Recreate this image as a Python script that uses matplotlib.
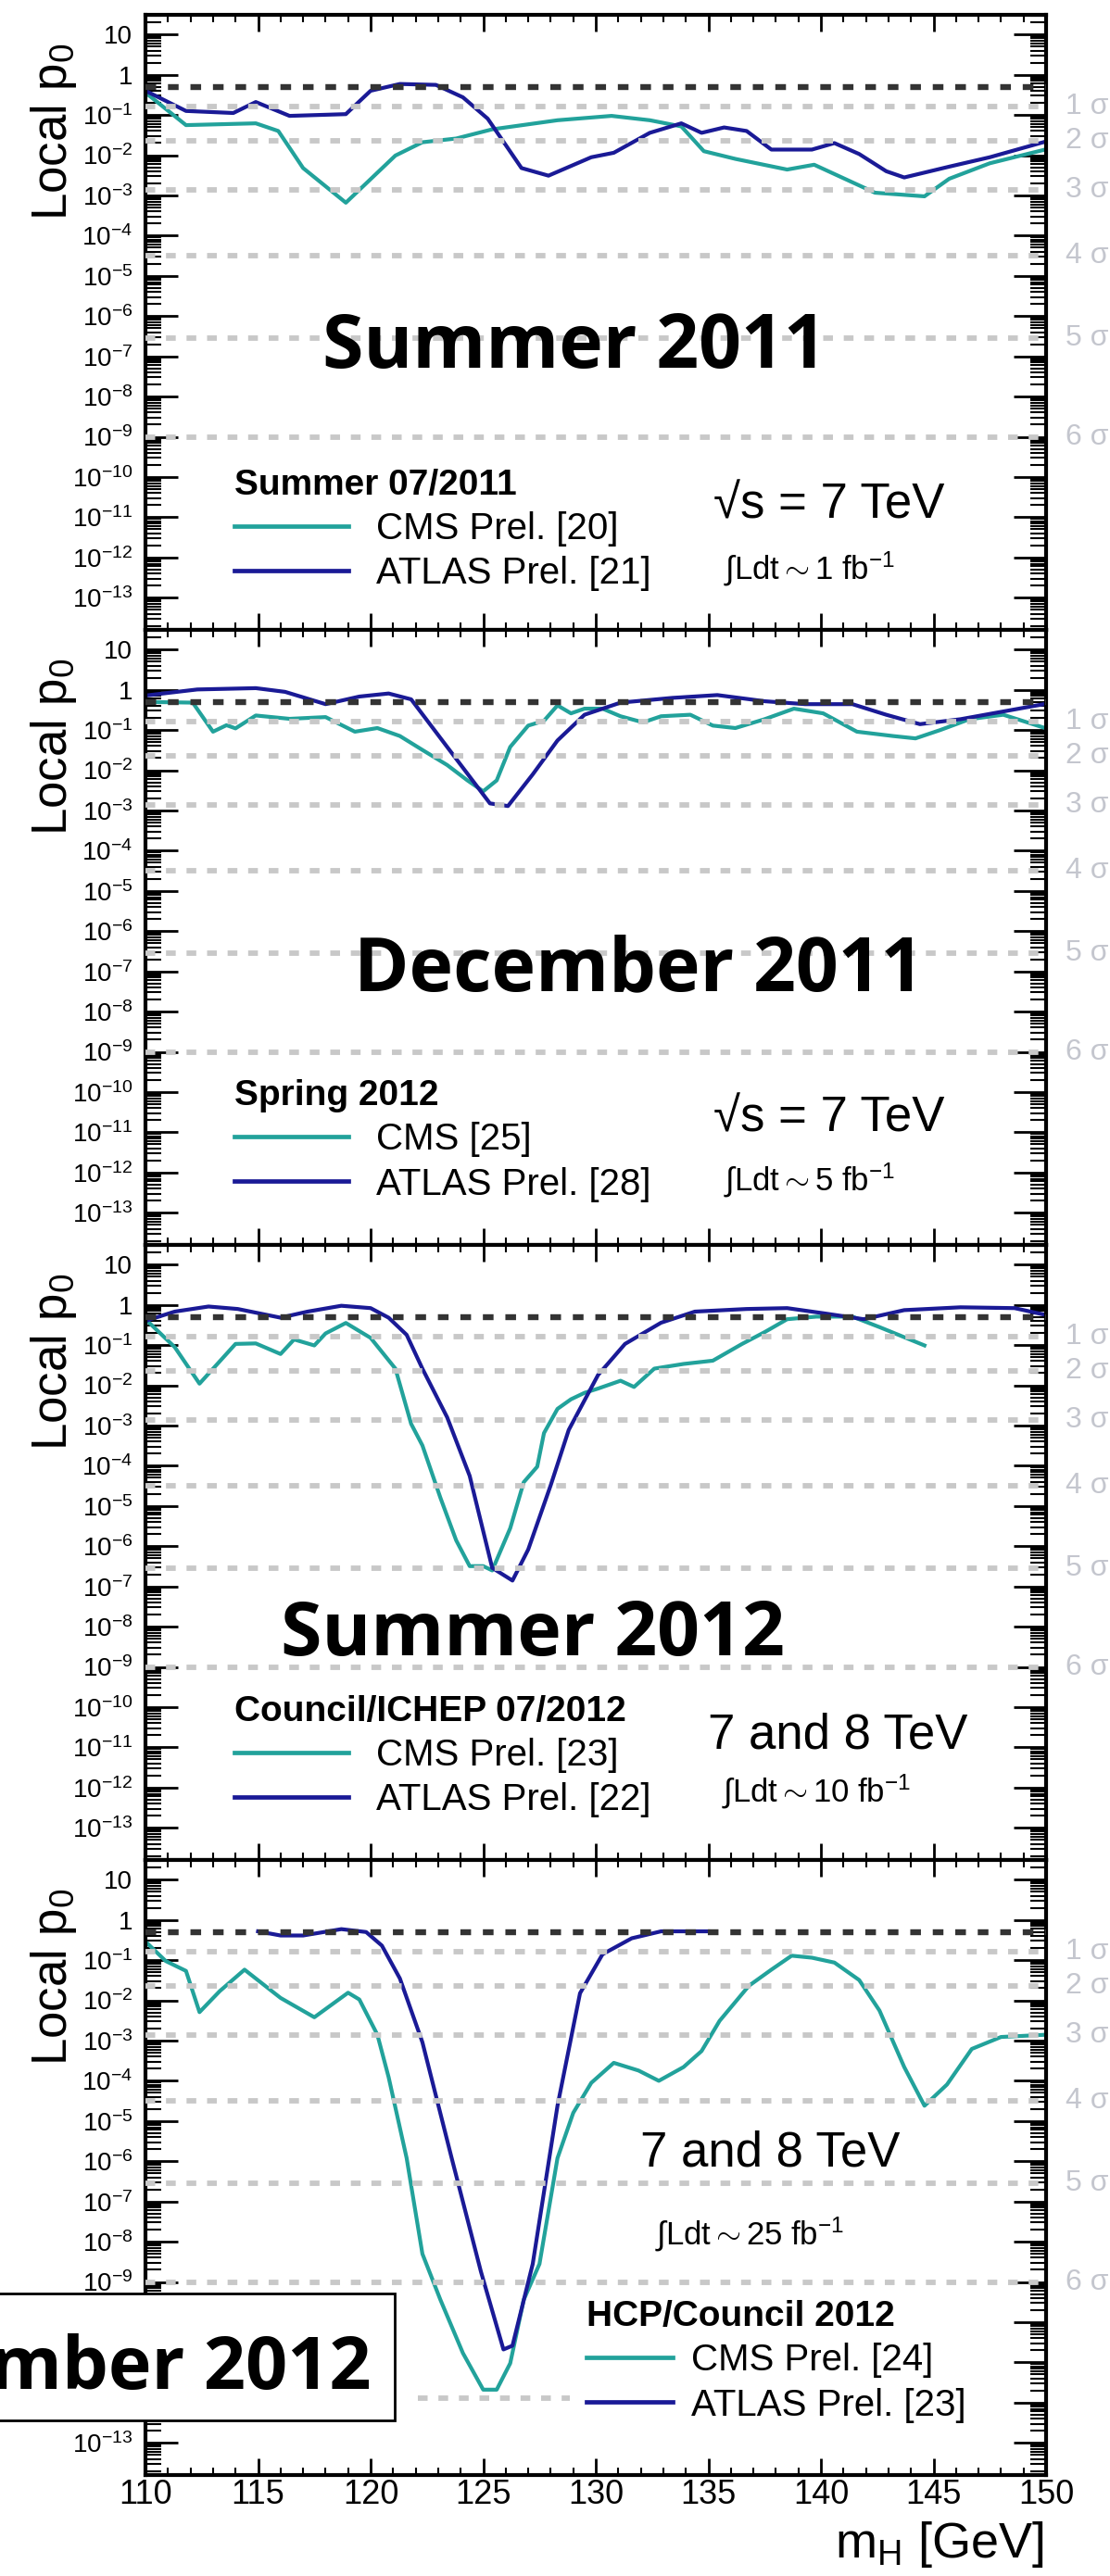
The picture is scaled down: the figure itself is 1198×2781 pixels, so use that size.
import numpy as np
import matplotlib
matplotlib.use('Agg')
import matplotlib.pyplot as plt
import matplotlib.transforms as mtransforms
from matplotlib.ticker import FixedLocator, LogLocator, NullFormatter, MultipleLocator
from matplotlib.patches import Rectangle

plt.rcParams['font.family'] = ['Liberation Sans', 'DejaVu Sans']
plt.rcParams['mathtext.fontset'] = 'custom'
plt.rcParams['mathtext.rm'] = 'Liberation Sans'
plt.rcParams['mathtext.it'] = 'Liberation Sans:italic'
plt.rcParams['mathtext.bf'] = 'Liberation Sans:bold'

# ---- data: local p0 vs mH ----
# Summer 2011
cms1_m = [110.0, 111.8, 114.9, 115.9, 117.0, 118.9, 121.1, 122.3, 123.8, 125.4, 128.3, 130.7,
          132.4, 133.8, 134.8, 136.2, 138.5, 139.7, 142.4, 144.6, 145.7, 147.5, 150.0]
cms1_p = [0.36, 5.6e-2, 6.2e-2, 4.0e-2, 4.8e-3, 6.6e-4, 9.8e-3, 2.1e-2, 2.6e-2, 4.4e-2, 7.4e-2, 9.5e-2,
          7.4e-2, 5.2e-2, 1.26e-2, 8.1e-3, 4.4e-3, 5.8e-3, 1.17e-3, 9.5e-4, 2.6e-3, 6.3e-3, 1.4e-2]
atlas1_m = [110.0, 111.8, 113.9, 114.9, 116.4, 118.9, 120.0, 121.3, 122.9, 124.1, 125.2, 126.7, 127.9,
            129.8, 130.8, 132.4, 133.8, 134.7, 135.7, 136.7, 137.8, 139.6, 140.6, 141.7, 142.9, 143.7,
            145.7, 147.5, 150.0]
atlas1_p = [0.40, 0.126, 0.112, 0.21, 9.5e-2, 0.105, 0.40, 0.59, 0.56, 0.275, 8.1e-2, 4.8e-3, 3.1e-3,
            8.9e-3, 1.15e-2, 3.6e-2, 6.2e-2, 3.6e-2, 4.9e-2, 4.0e-2, 1.38e-2, 1.38e-2, 2.0e-2, 1.07e-2,
            4.0e-3, 2.8e-3, 5.2e-3, 8.9e-3, 2.2e-2]

# December 2011
cms2_m = [110.0, 112.1, 113.0, 113.6, 114.0, 114.9, 116.4, 118.0, 119.3, 120.3, 121.3, 122.3, 123.4,
          124.3, 125.0, 125.6, 126.2, 127.0, 127.7, 128.3, 128.9, 129.5, 130.3, 131.1, 132.1, 132.9,
          134.2, 135.2, 136.2, 137.5, 138.8, 140.1, 141.6, 143.2, 144.2, 145.3, 146.6, 148.1, 150.0]
cms2_p = [0.50, 0.48, 9.1e-2, 0.132, 0.11, 0.23, 0.19, 0.21, 9.1e-2, 0.112, 7.1e-2, 3.2e-2, 1.35e-2,
          5.6e-3, 3.0e-3, 5.6e-3, 3.8e-2, 0.129, 0.17, 0.41, 0.26, 0.34, 0.34, 0.22, 0.155, 0.22,
          0.24, 0.129, 0.112, 0.186, 0.34, 0.26, 9.1e-2, 7.1e-2, 6.2e-2, 0.10, 0.186, 0.24, 0.11]
atlas2_m = [110.0, 112.3, 114.9, 116.2, 118.0, 119.5, 120.8, 121.8, 123.4, 125.3, 126.1, 127.2, 128.3,
            129.5, 131.1, 133.4, 135.4, 137.5, 139.3, 141.4, 142.9, 144.4, 146.2, 147.8, 150.0]
atlas2_p = [0.72, 1.02, 1.10, 0.89, 0.44, 0.68, 0.81, 0.58, 3.8e-2, 1.5e-3, 1.29e-3, 7.9e-3, 5.5e-2,
            0.24, 0.48, 0.63, 0.74, 0.52, 0.44, 0.44, 0.24, 0.14, 0.186, 0.27, 0.45]

# Summer 2012
cms3_m = [110.0, 111.3, 112.4, 114.0, 114.9, 116.0, 116.6, 117.5, 118.0, 118.9, 120.0, 121.1, 121.8,
          122.3, 123.1, 123.8, 124.4, 125.0, 125.4, 126.2, 126.8, 127.4, 127.7, 128.3, 128.9, 129.5,
          130.1, 131.1, 131.7, 132.6, 133.9, 135.2, 136.5, 137.5, 138.5, 139.8, 141.4, 142.6, 144.6]
cms3_p = [0.44, 8.9e-2, 1.1e-2, 0.107, 0.11, 6.0e-2, 0.138, 9.8e-2, 0.195, 0.355, 0.151, 2.6e-2, 1.1e-3,
          3.2e-4, 1.6e-5, 1.4e-6, 3.2e-7, 3.2e-7, 2.5e-7, 2.8e-6, 3.9e-5, 9.5e-5, 6.5e-4, 2.6e-3, 4.5e-3,
          6.5e-3, 8.3e-3, 1.3e-2, 9.1e-3, 2.6e-2, 3.4e-2, 4.1e-2, 0.107, 0.21, 0.44, 0.51, 0.51, 0.28,
          9.8e-2]
atlas3_m = [110.0, 111.3, 112.8, 114.1, 116.0, 117.2, 118.7, 120.0, 120.8, 121.6, 122.3, 123.4, 124.4,
            125.4, 126.3, 127.0, 128.0, 128.8, 130.1, 131.3, 132.9, 134.4, 136.7, 138.5, 140.1, 141.9,
            143.7, 146.2, 148.6, 150.0]
atlas3_p = [0.40, 0.68, 0.91, 0.79, 0.48, 0.68, 0.95, 0.83, 0.48, 0.18, 2.6e-2, 1.6e-3, 5.6e-5,
            2.9e-7, 1.4e-7, 8.3e-7, 3.3e-5, 7.8e-4, 1.8e-2, 0.107, 0.36, 0.68, 0.79, 0.83, 0.62, 0.44,
            0.74, 0.87, 0.83, 0.56]

# November 2012
cms4_m = [110.0, 110.9, 111.8, 112.4, 113.3, 114.4, 116.0, 117.5, 119.0, 119.5, 120.3, 120.8, 121.6,
          122.3, 123.1, 124.1, 125.0, 125.6, 126.2, 126.8, 127.5, 128.3, 129.0, 129.8, 130.8, 131.9,
          132.8, 133.9, 134.7, 135.5, 136.8, 137.8, 138.7, 139.6, 140.6, 141.7, 142.6, 143.7, 144.6,
          145.6, 146.7, 148.0, 150.0]
cms4_p = [0.29, 9.5e-2, 5.4e-2, 5.1e-3, 1.7e-2, 5.8e-2, 1.15e-2, 3.8e-3, 1.55e-2, 1.05e-2, 1.4e-3,
          1.23e-4, 1.2e-6, 5.0e-9, 3.6e-10, 1.7e-11, 2.1e-12, 2.1e-12, 9.5e-12, 3.6e-10, 2.8e-9, 1.2e-6,
          1.6e-5, 8.9e-5, 2.8e-4, 1.8e-4, 1.0e-4, 2.2e-4, 5.5e-4, 3.1e-3, 2.3e-2, 5.8e-2, 0.129, 0.115,
          8.7e-2, 3.2e-2, 5.6e-3, 2.2e-4, 2.4e-5, 8.1e-5, 6.2e-4, 1.23e-3, 1.4e-3]
atlas4_m = [115.0, 116.0, 117.0, 118.7, 119.8, 120.5, 121.3, 122.3, 123.6, 124.9, 125.9, 126.3, 127.2,
            128.3, 129.3, 130.3, 131.6, 132.9, 135.0]
atlas4_p = [0.52, 0.41, 0.41, 0.59, 0.50, 0.23, 3.5e-2, 9.1e-4, 1.2e-6, 1.8e-9, 2.1e-11, 2.6e-11, 2.8e-9,
            2.4e-5, 1.5e-2, 0.14, 0.35, 0.52, 0.52]

# one-sided p-values for 1..7 sigma
sigma_names = ['1 σ', '2 σ', '3 σ', '4 σ', '5 σ', '6 σ']
sigma_p = [0.1587, 0.02275, 1.35e-3, 3.17e-5, 2.87e-7, 9.87e-10]
sigma7_p = 1.28e-12
sigma7_range = [122.1, 128.85]
half_p = 0.5

periods = ['Summer 2011', 'December 2011', 'Summer 2012', 'November 2012']
leg_titles = ['Summer 07/2011', 'Spring 2012', 'Council/ICHEP 07/2012', 'HCP/Council 2012']
cms_labels = ['CMS Prel. [20]', 'CMS [25]', 'CMS Prel. [23]', 'CMS Prel. [24]']
atlas_labels = ['ATLAS Prel. [21]', 'ATLAS Prel. [28]', 'ATLAS Prel. [22]', 'ATLAS Prel. [23]']
energies = ['\u221as = 7 TeV', '\u221as = 7 TeV', '7 and 8 TeV', '7 and 8 TeV']
lumis = ['1', '5', '10', '25']

cms_m = [cms1_m, cms2_m, cms3_m, cms4_m]
cms_p = [cms1_p, cms2_p, cms3_p, cms4_p]
atlas_m = [atlas1_m, atlas2_m, atlas3_m, atlas4_m]
atlas_p = [atlas1_p, atlas2_p, atlas3_p, atlas4_p]

# ---- layout (pixels of the 1198x2781 picture) ----
W, H = 1198, 2781
TEAL = '#22a29b'
NAVY = '#1a1a96'
ax_left, ax_width, ax_height = 157, 972, 664
tops = [16, 680, 1344, 2008]

# positions in axes fraction
period_pos = [(0.476, 0.426), (0.548, 0.413), (0.430, 0.333)]
legend_pos = [(0.099, 0.262), (0.099, 0.269), (0.099, 0.268), (0.490, 0.284)]
energy_pos = [(0.631, 0.181), (0.631, 0.184), (0.625, 0.182), (0.549, 0.502)]
lumi_pos = [(0.642, 0.083), (0.642, 0.089), (0.640, 0.095), (0.566, 0.375)]

fig = plt.figure(figsize=(W / 100, H / 100), dpi=100)

ytick_vals = 10.0 ** np.arange(-13, 2)
ytick_labels = ['10$^{-%d}$' % k for k in range(13, 0, -1)] + ['1', '10']

for i in range(4):
    ax = fig.add_axes([ax_left / W, (H - tops[i] - ax_height) / H, ax_width / W, ax_height / H])
    ax.set_yscale('log')
    ax.set_xlim(110, 150)
    ax.set_ylim(10 ** -13.8, 10 ** 1.49)

    l_cms, = ax.plot(cms_m[i], cms_p[i], color=TEAL, lw=3.0, zorder=2)
    l_atl, = ax.plot(atlas_m[i], atlas_p[i], color=NAVY, lw=3.0, zorder=2)

    for sp in sigma_p:
        ax.axhline(sp, color='#c8c8c8', lw=4.2, dashes=(1.8, 2.0), zorder=3)
    ax.axhline(half_p, color='#333333', lw=4.6, dashes=(1.8, 2.0), zorder=3)
    if i == 3:
        ax.hlines(sigma7_p, sigma7_range[0], sigma7_range[1], color='#c8c8c8', lw=4.2,
                  linestyles=[(0, (1.8, 2.0))], zorder=3)

    # sigma labels to the right of the frame
    trans = mtransforms.blended_transform_factory(ax.transAxes, ax.transData)
    for name, sp in zip(sigma_names, sigma_p):
        ax.text(1.0216, sp, name, transform=trans, ha='left', va='center',
                fontsize=23, color='#c4c6ce', clip_on=False)

    # axes styling, ROOT-like
    for s in ax.spines.values():
        s.set_linewidth(3)
    ax.yaxis.set_major_locator(FixedLocator(ytick_vals))
    ax.set_yticklabels(ytick_labels)
    ax.yaxis.set_minor_locator(LogLocator(base=10, subs=np.arange(2, 10) * 1.0, numticks=60))
    ax.yaxis.set_minor_formatter(NullFormatter())
    ax.xaxis.set_major_locator(MultipleLocator(5))
    ax.xaxis.set_minor_locator(MultipleLocator(1))
    ax.tick_params(axis='y', which='major', direction='in', left=True, right=True,
                   length=25, width=2, labelsize=20, pad=10)
    ax.tick_params(axis='y', which='minor', direction='in', left=True, right=True,
                   length=12, width=1.5)
    ax.tick_params(axis='x', which='major', direction='in', top=True, bottom=True,
                   length=13, width=2, labelsize=26, pad=3)
    ax.tick_params(axis='x', which='minor', direction='in', top=True, bottom=True,
                   length=6, width=1.5)
    if i < 3:
        ax.tick_params(axis='x', labelbottom=False)

    ax.text(-0.0874, 0.955, 'Local p$_{0}$', transform=ax.transAxes, rotation=90,
            rotation_mode='anchor', ha='right', va='baseline', fontsize=38)

    # legend
    if i == 3:
        hl, htp = 2.3, 0.5
    else:
        hl, htp = 3.05, 0.75
    leg = ax.legend([l_cms, l_atl], [cms_labels[i], atlas_labels[i]], title=leg_titles[i],
                    title_fontproperties={'weight': 'bold', 'size': 28}, fontsize=29,
                    frameon=False, loc='upper left', bbox_to_anchor=legend_pos[i],
                    handlelength=hl, handletextpad=htp, labelspacing=0.25,
                    borderpad=0, borderaxespad=0, alignment='left')
    for lh in leg.get_lines():
        lh.set_linewidth(3.4)

    ax.text(energy_pos[i][0], energy_pos[i][1], energies[i], transform=ax.transAxes,
            ha='left', va='baseline', fontsize=38)
    ax.text(lumi_pos[i][0], lumi_pos[i][1], r'$\int$Ldt$\sim$' + lumis[i] + ' fb$^{-1}$',
            transform=ax.transAxes, ha='left', va='baseline', fontsize=25)

    if i < 3:
        ax.text(period_pos[i][0], period_pos[i][1], periods[i], transform=ax.transAxes,
                ha='center', va='baseline', fontsize=58, fontweight='bold',
                family=['Open Sans', 'DejaVu Sans'], zorder=5)

# boxed label at the bottom left, cut by the page edge
fig.patches.append(Rectangle((-5 / W, (H - 2613) / H), 431 / W, 137.5 / H,
                             transform=fig.transFigure, facecolor='white',
                             edgecolor='black', lw=2, zorder=5))
fig.text(401 / W, (H - 2579) / H, periods[3], ha='right', va='baseline', fontsize=57,
         fontweight='bold', family=['Open Sans', 'DejaVu Sans'], zorder=6)

fig.text(1127 / W, (H - 2761) / H, 'm$_{\\rm H}$ [GeV]', ha='right', va='baseline', fontsize=39)

fig.savefig('out.png', dpi=100)
